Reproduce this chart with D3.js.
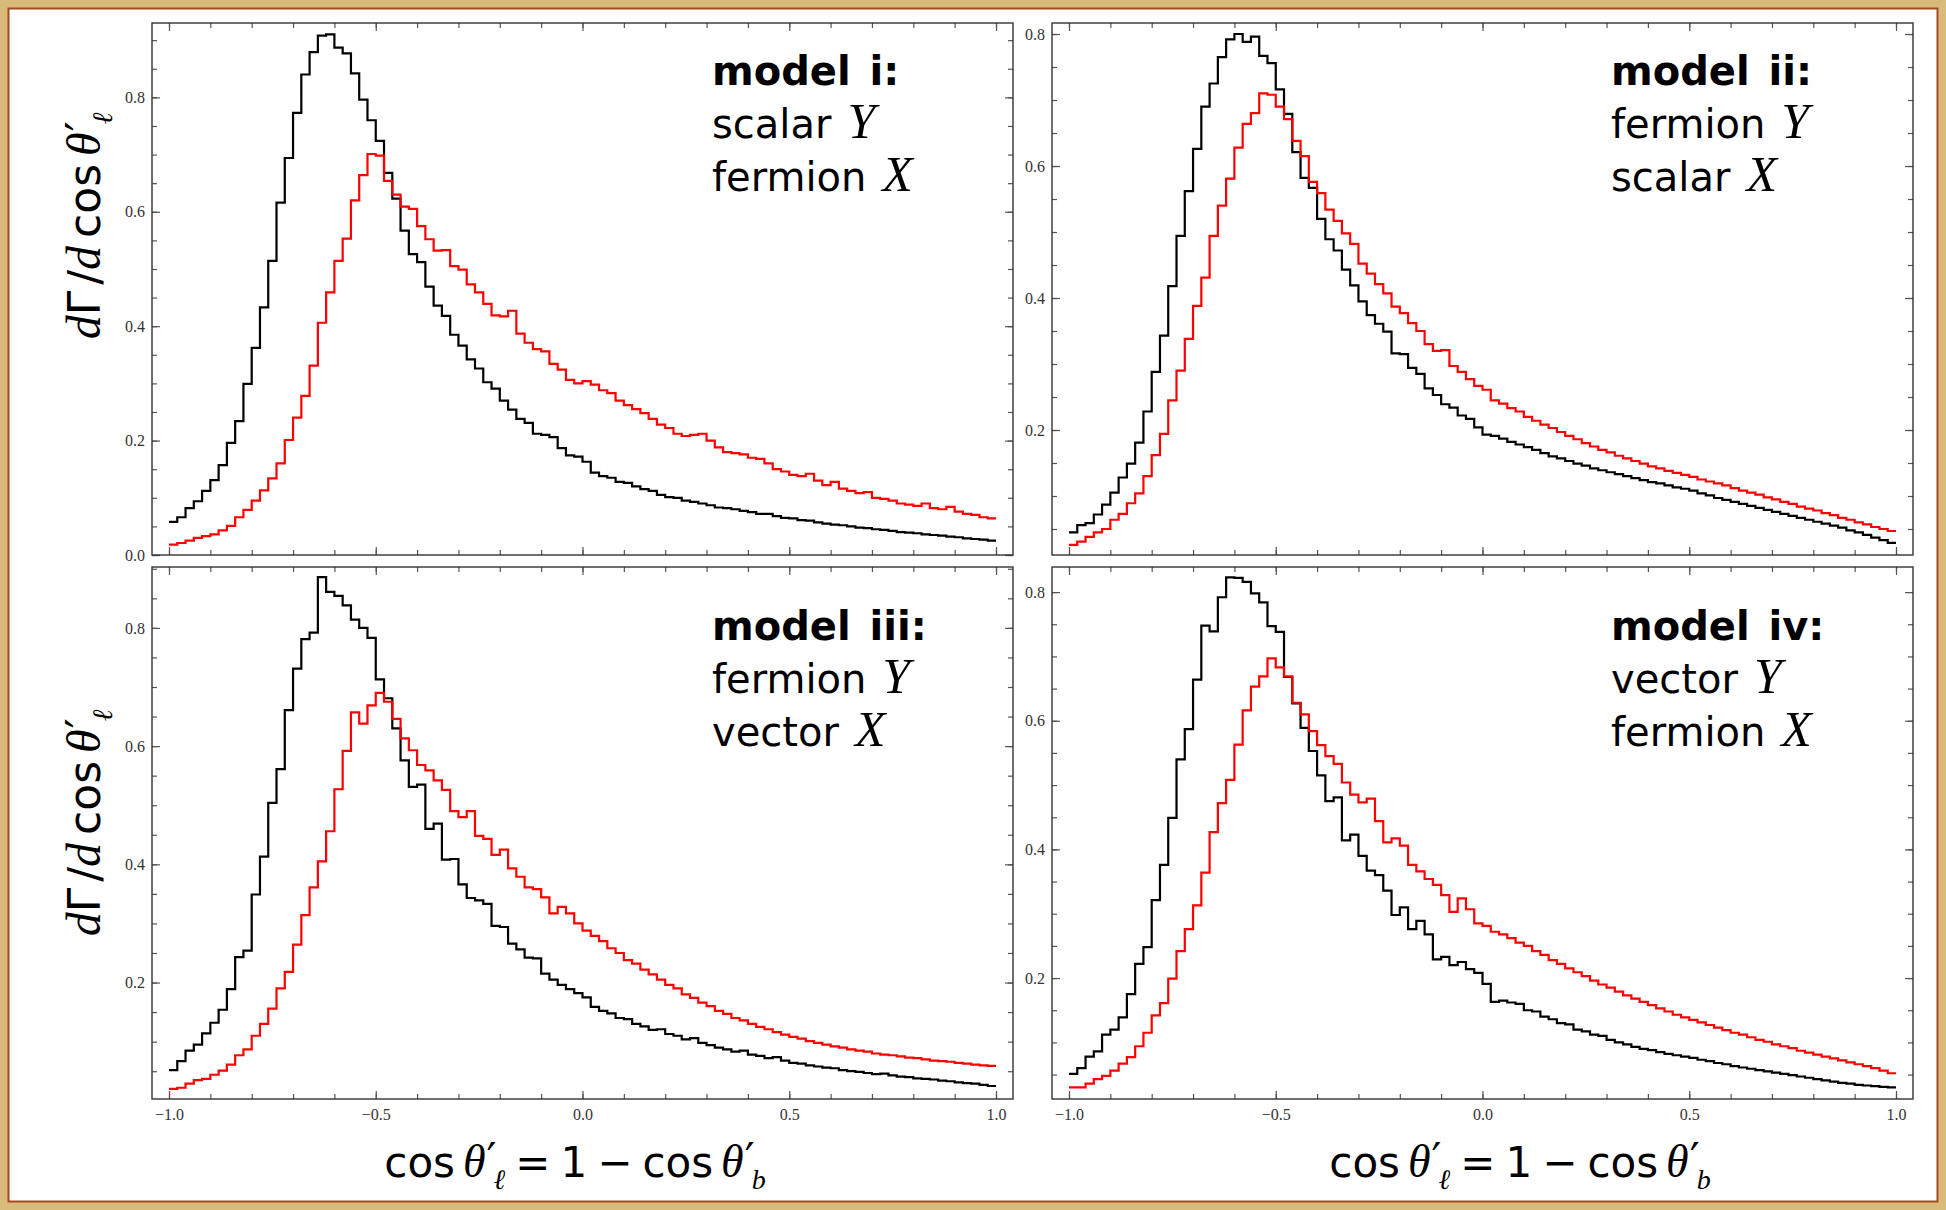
<!DOCTYPE html>
<html>
<head>
<meta charset="utf-8">
<script src="https://cdn.jsdelivr.net/npm/d3@7/dist/d3.min.js"></script>
<style>
  body { margin: 0; background: #d8bb7a; }
  .tick text { font-family: "Liberation Serif", serif; font-size: 16px; fill: #333; }
  .tick line { stroke: #555; stroke-width: 1.2; }
  .domain { display: none; }
</style>
</head>
<body>
<script>

//histogram values, 100 bins of width 0.02 from -1 to 1
var black1 = [0.058,0.066,0.082,0.094,0.112,0.131,0.157,0.196,0.234,0.299,0.362,0.433,0.514,0.616,0.694,0.773,0.840,0.879,0.908,0.910,
  0.887,0.877,0.842,0.796,0.760,0.724,0.668,0.623,0.567,0.526,0.512,0.469,0.436,0.418,0.385,0.366,0.342,0.326,0.302,0.291,
  0.270,0.254,0.238,0.231,0.212,0.210,0.206,0.187,0.174,0.172,0.163,0.144,0.138,0.135,0.128,0.126,0.120,0.115,0.112,0.105,
  0.101,0.100,0.095,0.093,0.090,0.087,0.083,0.082,0.080,0.077,0.075,0.072,0.072,0.068,0.065,0.064,0.061,0.060,0.057,0.055,
  0.053,0.052,0.050,0.048,0.047,0.045,0.044,0.042,0.040,0.039,0.038,0.036,0.035,0.034,0.032,0.031,0.029,0.028,0.027,0.025];
var red1 = [0.018,0.021,0.025,0.030,0.033,0.036,0.043,0.051,0.066,0.079,0.095,0.113,0.134,0.160,0.201,0.240,0.278,0.331,0.406,0.459,
  0.514,0.553,0.620,0.664,0.701,0.698,0.654,0.630,0.609,0.605,0.575,0.552,0.532,0.533,0.505,0.499,0.473,0.459,0.439,0.419,
  0.417,0.427,0.387,0.371,0.360,0.356,0.334,0.324,0.306,0.300,0.304,0.298,0.288,0.283,0.270,0.262,0.255,0.248,0.238,0.228,
  0.222,0.212,0.208,0.210,0.212,0.200,0.188,0.180,0.178,0.176,0.170,0.168,0.160,0.150,0.146,0.140,0.138,0.142,0.130,0.122,
  0.128,0.116,0.112,0.108,0.110,0.100,0.098,0.095,0.090,0.088,0.086,0.090,0.082,0.080,0.084,0.076,0.072,0.070,0.066,0.064];
var black2 = [0.045,0.056,0.059,0.072,0.087,0.105,0.128,0.149,0.181,0.228,0.288,0.343,0.418,0.494,0.562,0.626,0.690,0.725,0.765,0.792,
  0.800,0.788,0.796,0.767,0.756,0.716,0.679,0.621,0.582,0.567,0.520,0.489,0.472,0.443,0.419,0.395,0.374,0.361,0.349,0.316,
  0.315,0.294,0.285,0.263,0.253,0.239,0.234,0.222,0.217,0.204,0.193,0.191,0.187,0.182,0.178,0.174,0.170,0.165,0.160,0.157,
  0.153,0.149,0.146,0.142,0.139,0.136,0.133,0.130,0.127,0.124,0.121,0.119,0.116,0.113,0.111,0.108,0.104,0.101,0.097,0.094,
  0.091,0.088,0.085,0.082,0.079,0.076,0.073,0.070,0.067,0.064,0.061,0.058,0.055,0.052,0.048,0.045,0.041,0.037,0.033,0.029];
var red2 = [0.026,0.031,0.038,0.045,0.050,0.064,0.073,0.089,0.104,0.130,0.162,0.194,0.245,0.290,0.338,0.388,0.431,0.494,0.540,0.581,
  0.628,0.664,0.680,0.710,0.708,0.690,0.671,0.638,0.615,0.576,0.559,0.534,0.517,0.498,0.482,0.452,0.437,0.421,0.407,0.387,
  0.377,0.362,0.350,0.330,0.320,0.321,0.297,0.288,0.277,0.267,0.261,0.245,0.240,0.233,0.228,0.220,0.214,0.208,0.203,0.197,
  0.191,0.186,0.180,0.175,0.170,0.166,0.161,0.157,0.153,0.149,0.145,0.142,0.138,0.135,0.132,0.129,0.125,0.122,0.119,0.116,
  0.112,0.108,0.105,0.102,0.098,0.095,0.091,0.088,0.084,0.081,0.078,0.074,0.071,0.067,0.064,0.060,0.057,0.053,0.050,0.047];
var black3 = [0.052,0.067,0.085,0.095,0.114,0.132,0.154,0.189,0.243,0.254,0.349,0.413,0.504,0.561,0.661,0.731,0.781,0.792,0.886,0.861,
  0.854,0.838,0.814,0.800,0.783,0.713,0.681,0.630,0.576,0.531,0.535,0.460,0.469,0.408,0.409,0.366,0.343,0.339,0.333,0.296,
  0.294,0.266,0.256,0.242,0.241,0.215,0.205,0.196,0.189,0.182,0.175,0.159,0.152,0.148,0.140,0.138,0.130,0.126,0.120,0.121,
  0.113,0.110,0.104,0.106,0.098,0.094,0.090,0.087,0.083,0.085,0.078,0.076,0.072,0.074,0.068,0.064,0.063,0.060,0.058,0.056,
  0.055,0.052,0.050,0.049,0.047,0.045,0.046,0.043,0.041,0.040,0.038,0.037,0.036,0.034,0.033,0.031,0.030,0.029,0.027,0.025];
var red3 = [0.020,0.022,0.029,0.035,0.037,0.044,0.051,0.061,0.077,0.087,0.110,0.130,0.156,0.190,0.218,0.264,0.314,0.361,0.405,0.456,
  0.527,0.592,0.657,0.638,0.669,0.690,0.675,0.646,0.613,0.593,0.568,0.559,0.542,0.526,0.490,0.480,0.490,0.448,0.443,0.416,
  0.425,0.393,0.379,0.361,0.358,0.344,0.317,0.328,0.317,0.300,0.288,0.279,0.270,0.258,0.250,0.238,0.232,0.222,0.214,0.205,
  0.196,0.190,0.180,0.174,0.166,0.160,0.152,0.147,0.140,0.136,0.130,0.125,0.121,0.116,0.112,0.108,0.105,0.101,0.098,0.095,
  0.092,0.090,0.087,0.085,0.083,0.080,0.078,0.077,0.075,0.073,0.072,0.070,0.068,0.067,0.066,0.064,0.063,0.061,0.060,0.059];
var black4 = [0.051,0.060,0.078,0.086,0.112,0.120,0.139,0.175,0.222,0.248,0.321,0.376,0.449,0.540,0.587,0.664,0.748,0.739,0.792,0.823,
  0.822,0.816,0.798,0.784,0.747,0.738,0.668,0.627,0.589,0.553,0.515,0.475,0.481,0.414,0.423,0.390,0.367,0.360,0.336,0.298,
  0.310,0.276,0.289,0.268,0.229,0.233,0.220,0.225,0.214,0.208,0.191,0.163,0.165,0.162,0.160,0.150,0.148,0.140,0.136,0.130,
  0.128,0.120,0.117,0.112,0.110,0.104,0.100,0.097,0.093,0.090,0.088,0.085,0.082,0.080,0.078,0.076,0.073,0.071,0.068,0.066,
  0.063,0.061,0.059,0.057,0.055,0.053,0.051,0.049,0.047,0.045,0.043,0.041,0.039,0.037,0.036,0.034,0.033,0.032,0.031,0.030];
var red4 = [0.030,0.030,0.036,0.043,0.048,0.056,0.067,0.077,0.094,0.115,0.142,0.161,0.199,0.242,0.276,0.313,0.364,0.427,0.472,0.508,
  0.563,0.616,0.653,0.669,0.697,0.683,0.669,0.628,0.610,0.584,0.562,0.545,0.533,0.504,0.485,0.473,0.479,0.444,0.411,0.417,
  0.406,0.376,0.366,0.354,0.345,0.329,0.303,0.324,0.307,0.285,0.281,0.272,0.268,0.262,0.255,0.250,0.242,0.236,0.228,0.222,
  0.215,0.209,0.203,0.196,0.190,0.185,0.179,0.173,0.168,0.163,0.158,0.153,0.148,0.143,0.139,0.135,0.131,0.127,0.123,0.119,
  0.115,0.112,0.108,0.104,0.101,0.097,0.094,0.091,0.087,0.084,0.081,0.078,0.075,0.072,0.069,0.066,0.063,0.060,0.056,0.052];

//axis ranges
var yDomains = [[0, 0.930], [0.0106, 0.8167], [0.003, 0.903], [0.012, 0.839]];
var xMajorTicks = [-1, -0.5, 0, 0.5, 1];
var yMajorTicks = [0, 0.2, 0.4, 0.6, 0.8];

//legend text per panel
var modelNames = ["model i:", "model ii:", "model iii:", "model iv:"];
var yTypes = ["scalar", "fermion", "fermion", "vector"];
var xTypes = ["fermion", "scalar", "vector", "fermion"];

(function(){

    var width = 1946,
        height = 1210;

    var svg = d3.select("body")
        .append("svg")
        .attr("width", width)
        .attr("height", height);

    //tan frame with thin brown line
    svg.append("rect")
        .attr("width", width)
        .attr("height", height)
        .attr("fill", "#d8bb7a");
    svg.append("rect")
        .attr("x", 8.5)
        .attr("y", 8.5)
        .attr("width", width - 17)
        .attr("height", height - 17)
        .attr("fill", "#fff")
        .attr("stroke", "#a8481f")
        .attr("stroke-width", 2);

    var pw = 861, ph = 532;
    var panels = [
        {x0: 152, y0: 23, black: black1, red: red1, bottom: false, lx: 560, ly: 62},
        {x0: 1052, y0: 23, black: black2, red: red2, bottom: false, lx: 559, ly: 62},
        {x0: 152, y0: 567, black: black3, red: red3, bottom: true, lx: 560, ly: 73},
        {x0: 1052, y0: 567, black: black4, red: red4, bottom: true, lx: 559, ly: 73}
    ];

    var xMinorTicks = d3.range(-10, 11).map(function(d){ return d / 10; });
    var yMinorTicks = d3.range(0, 19).map(function(d){ return d * 0.05; });
    var fmt = d3.format(".1f");

    panels.forEach(function(p, i){
        var g = svg.append("g")
            .attr("transform", "translate(" + p.x0 + "," + p.y0 + ")");

        var x = d3.scaleLinear().domain([-1, 1]).range([17, 844]);
        var y = d3.scaleLinear().domain(yDomains[i]).range([ph, 0]);

        var yMaj = yMajorTicks.filter(function(v){ return v >= yDomains[i][0] && v <= yDomains[i][1]; });
        var yMin = yMinorTicks.filter(function(v){ return v >= yDomains[i][0] && v <= yDomains[i][1]; });

        //ticks point inward on all four sides
        g.append("g").attr("transform", "translate(0," + ph + ")")
            .call(d3.axisBottom(x).tickValues(xMinorTicks).tickSize(-5).tickFormat(""));
        g.append("g").attr("transform", "translate(0," + ph + ")")
            .call(d3.axisBottom(x).tickValues(xMajorTicks).tickSize(-8).tickPadding(10)
                .tickFormat(p.bottom ? fmt : ""));
        g.append("g")
            .call(d3.axisTop(x).tickValues(xMinorTicks).tickSize(-5).tickFormat(""));
        g.append("g")
            .call(d3.axisTop(x).tickValues(xMajorTicks).tickSize(-8).tickFormat(""));
        g.append("g")
            .call(d3.axisLeft(y).tickValues(yMin).tickSize(-5).tickFormat(""));
        g.append("g")
            .call(d3.axisLeft(y).tickValues(yMaj).tickSize(-8).tickPadding(7).tickFormat(fmt));
        g.append("g").attr("transform", "translate(" + pw + ",0)")
            .call(d3.axisRight(y).tickValues(yMin).tickSize(-5).tickFormat(""));
        g.append("g").attr("transform", "translate(" + pw + ",0)")
            .call(d3.axisRight(y).tickValues(yMaj).tickSize(-8).tickFormat(""));

        g.append("rect")
            .attr("width", pw)
            .attr("height", ph)
            .attr("fill", "none")
            .attr("stroke", "#333")
            .attr("stroke-width", 1.4);

        //step histograms
        var line = d3.line()
            .x(function(d){ return x(d[0]); })
            .y(function(d){ return y(d[1]); })
            .curve(d3.curveStepAfter);

        [[p.black, "#000"], [p.red, "#ff0000"]].forEach(function(s){
            var pts = s[0].map(function(v, k){ return [-1 + 0.02 * k, v]; });
            pts.push([1, s[0][s[0].length - 1]]);
            g.append("path")
                .datum(pts)
                .attr("d", line)
                .attr("fill", "none")
                .attr("stroke", s[1])
                .attr("stroke-width", 2.2);
        });

        //legend
        var leg = g.append("g")
            .attr("transform", "translate(" + p.lx + "," + p.ly + ")")
            .attr("font-family", "DejaVu Sans")
            .attr("font-size", 40);
        leg.append("text").attr("font-weight", "bold").attr("word-spacing", 5).text(modelNames[i]);
        var t2 = leg.append("text").attr("y", 53);
        t2.append("tspan").text(yTypes[i]);
        t2.append("tspan").attr("dx", 16).attr("font-family", "Liberation Serif")
            .attr("font-style", "italic").attr("font-size", 50).text("Y");
        var t3 = leg.append("text").attr("y", 106);
        t3.append("tspan").text(xTypes[i]);
        t3.append("tspan").attr("dx", 16).attr("font-family", "Liberation Serif")
            .attr("font-style", "italic").attr("font-size", 50).text("X");
    });

    //theta prime with a subscript, shared by both axis titles
    function thetaPrime(t, sub, size){
        t.append("tspan").attr("dx", 8).attr("font-family", "Liberation Serif")
            .attr("font-style", "italic").attr("font-size", size).text("θ");
        t.append("tspan").attr("font-family", "DejaVu Serif").attr("font-size", 44)
            .attr("dx", 1).attr("dy", -2).text("′");
        t.append("tspan").attr("font-family", "Liberation Serif").attr("font-style", "italic")
            .attr("font-size", 28).attr("dx", -3).attr("dy", 14).text(sub);
    }

    //y axis titles
    [226, 823].forEach(function(cy){
        var t = svg.append("text")
            .attr("transform", "translate(100," + cy + ") rotate(-90)")
            .attr("text-anchor", "middle")
            .attr("font-family", "DejaVu Sans")
            .attr("font-size", 44);
        t.append("tspan").attr("font-family", "Liberation Serif").attr("font-style", "italic").attr("font-size", 48).text("d");
        t.append("tspan").text("Γ");
        t.append("tspan").attr("dx", 6).text("/");
        t.append("tspan").attr("font-family", "Liberation Serif").attr("font-style", "italic").attr("font-size", 48).text("d");
        t.append("tspan").attr("dx", 8).text("cos");
        thetaPrime(t, "ℓ", 48);
    });

    //x axis titles
    [575, 1520].forEach(function(cx){
        var t = svg.append("text")
            .attr("x", cx)
            .attr("y", 1177)
            .attr("text-anchor", "middle")
            .attr("font-family", "DejaVu Sans")
            .attr("font-size", 42);
        t.append("tspan").text("cos");
        thetaPrime(t, "ℓ", 46);
        t.append("tspan").attr("dy", -12).attr("dx", 10).text("=");
        t.append("tspan").attr("dx", 10).text("1");
        t.append("tspan").attr("dx", 10).text("−");
        t.append("tspan").attr("dx", 10).text("cos");
        thetaPrime(t, "b", 46);
    });

})();
</script>
</body>
</html>
